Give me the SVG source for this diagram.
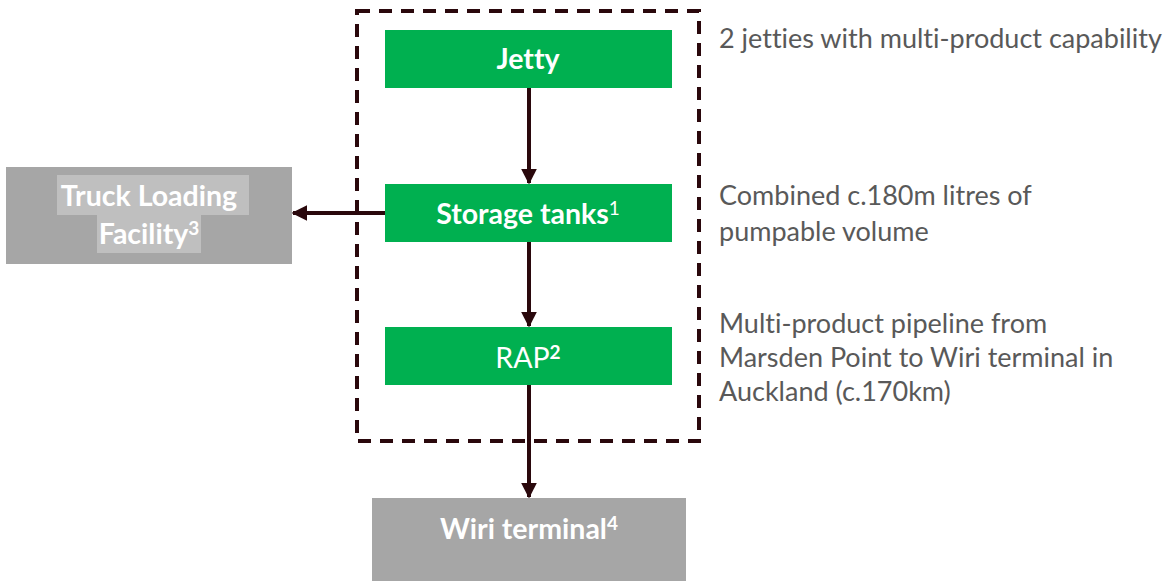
<svg xmlns="http://www.w3.org/2000/svg" width="1168" height="581" viewBox="0 0 1168 581">
<style>
.g{fill:#00b050}
.gr{fill:#a6a6a6}
.bt{font-family:Lato,"Liberation Sans",sans-serif;font-size:28.5px;fill:#ffffff;text-anchor:middle;font-variant-ligatures:none}
.b{font-weight:bold}
.side{font-family:Lato,"Liberation Sans",sans-serif;font-size:27px;fill:#595959;font-variant-ligatures:none}
.c{stroke:#2a080c;stroke-width:4;fill:none}
</style>
<defs>
<marker id="ah" markerWidth="4" markerHeight="4" refX="3.6" refY="2" orient="auto" markerUnits="strokeWidth">
<path d="M0,0 L4,2 L0,4 Z" fill="#2a080c"/>
</marker>
</defs>
<rect x="0" y="0" width="1168" height="581" fill="#ffffff"/>
<rect id="boundary" x="357" y="11" width="342" height="430" fill="none" stroke="#2a080c" stroke-width="4" stroke-dasharray="13,9"/>
<g id="connectors">
<line class="c" x1="529" y1="88" x2="529" y2="183" marker-end="url(#ah)"/>
<line class="c" x1="529" y1="242" x2="529" y2="326" marker-end="url(#ah)"/>
<line class="c" x1="529" y1="385" x2="529" y2="497" marker-end="url(#ah)"/>
<line class="c" x1="385" y1="213" x2="293" y2="213" marker-end="url(#ah)"/>
</g>
<g id="jetty">
<rect class="g" x="385" y="30" width="287" height="58"/>
<text class="bt b" x="528" y="69">Jetty</text>
</g>
<g id="storage">
<rect class="g" x="385" y="184" width="287" height="58"/>
<text class="bt" x="528" y="224"><tspan class="b">Storage tanks</tspan><tspan font-size="19" dy="-9">1</tspan></text>
</g>
<g id="rap">
<rect class="g" x="385" y="327" width="287" height="58"/>
<text class="bt" x="528" y="368">RAP<tspan class="b" font-size="19" dy="-9">2</tspan></text>
</g>
<g id="wiri">
<rect class="gr" x="372" y="498" width="314" height="83"/>
<text class="bt b" x="529" y="539">Wiri terminal<tspan font-size="19" dy="-9">4</tspan></text>
</g>
<g id="truck">
<rect class="gr" x="6" y="167" width="286" height="97"/>
<rect x="57" y="175" width="192" height="40" fill="#bfbfbf"/>
<rect x="97" y="215" width="104" height="38" fill="#bfbfbf"/>
<text class="bt b" x="149" y="206">Truck Loading </text>
<text class="bt b" x="149" y="244">Facility<tspan font-size="19" dy="-9">3</tspan></text>
</g>
<g id="notes">
<text class="side" x="719" y="48">2 jetties with multi-product capability</text>
<text class="side" x="719" y="205">Combined c.180m litres of</text>
<text class="side" x="719" y="241">pumpable volume</text>
<text class="side" x="719" y="333">Multi-product pipeline from</text>
<text class="side" x="719" y="367">Marsden Point to Wiri terminal in</text>
<text class="side" x="719" y="401">Auckland (c.170km)</text>
</g>
</svg>
